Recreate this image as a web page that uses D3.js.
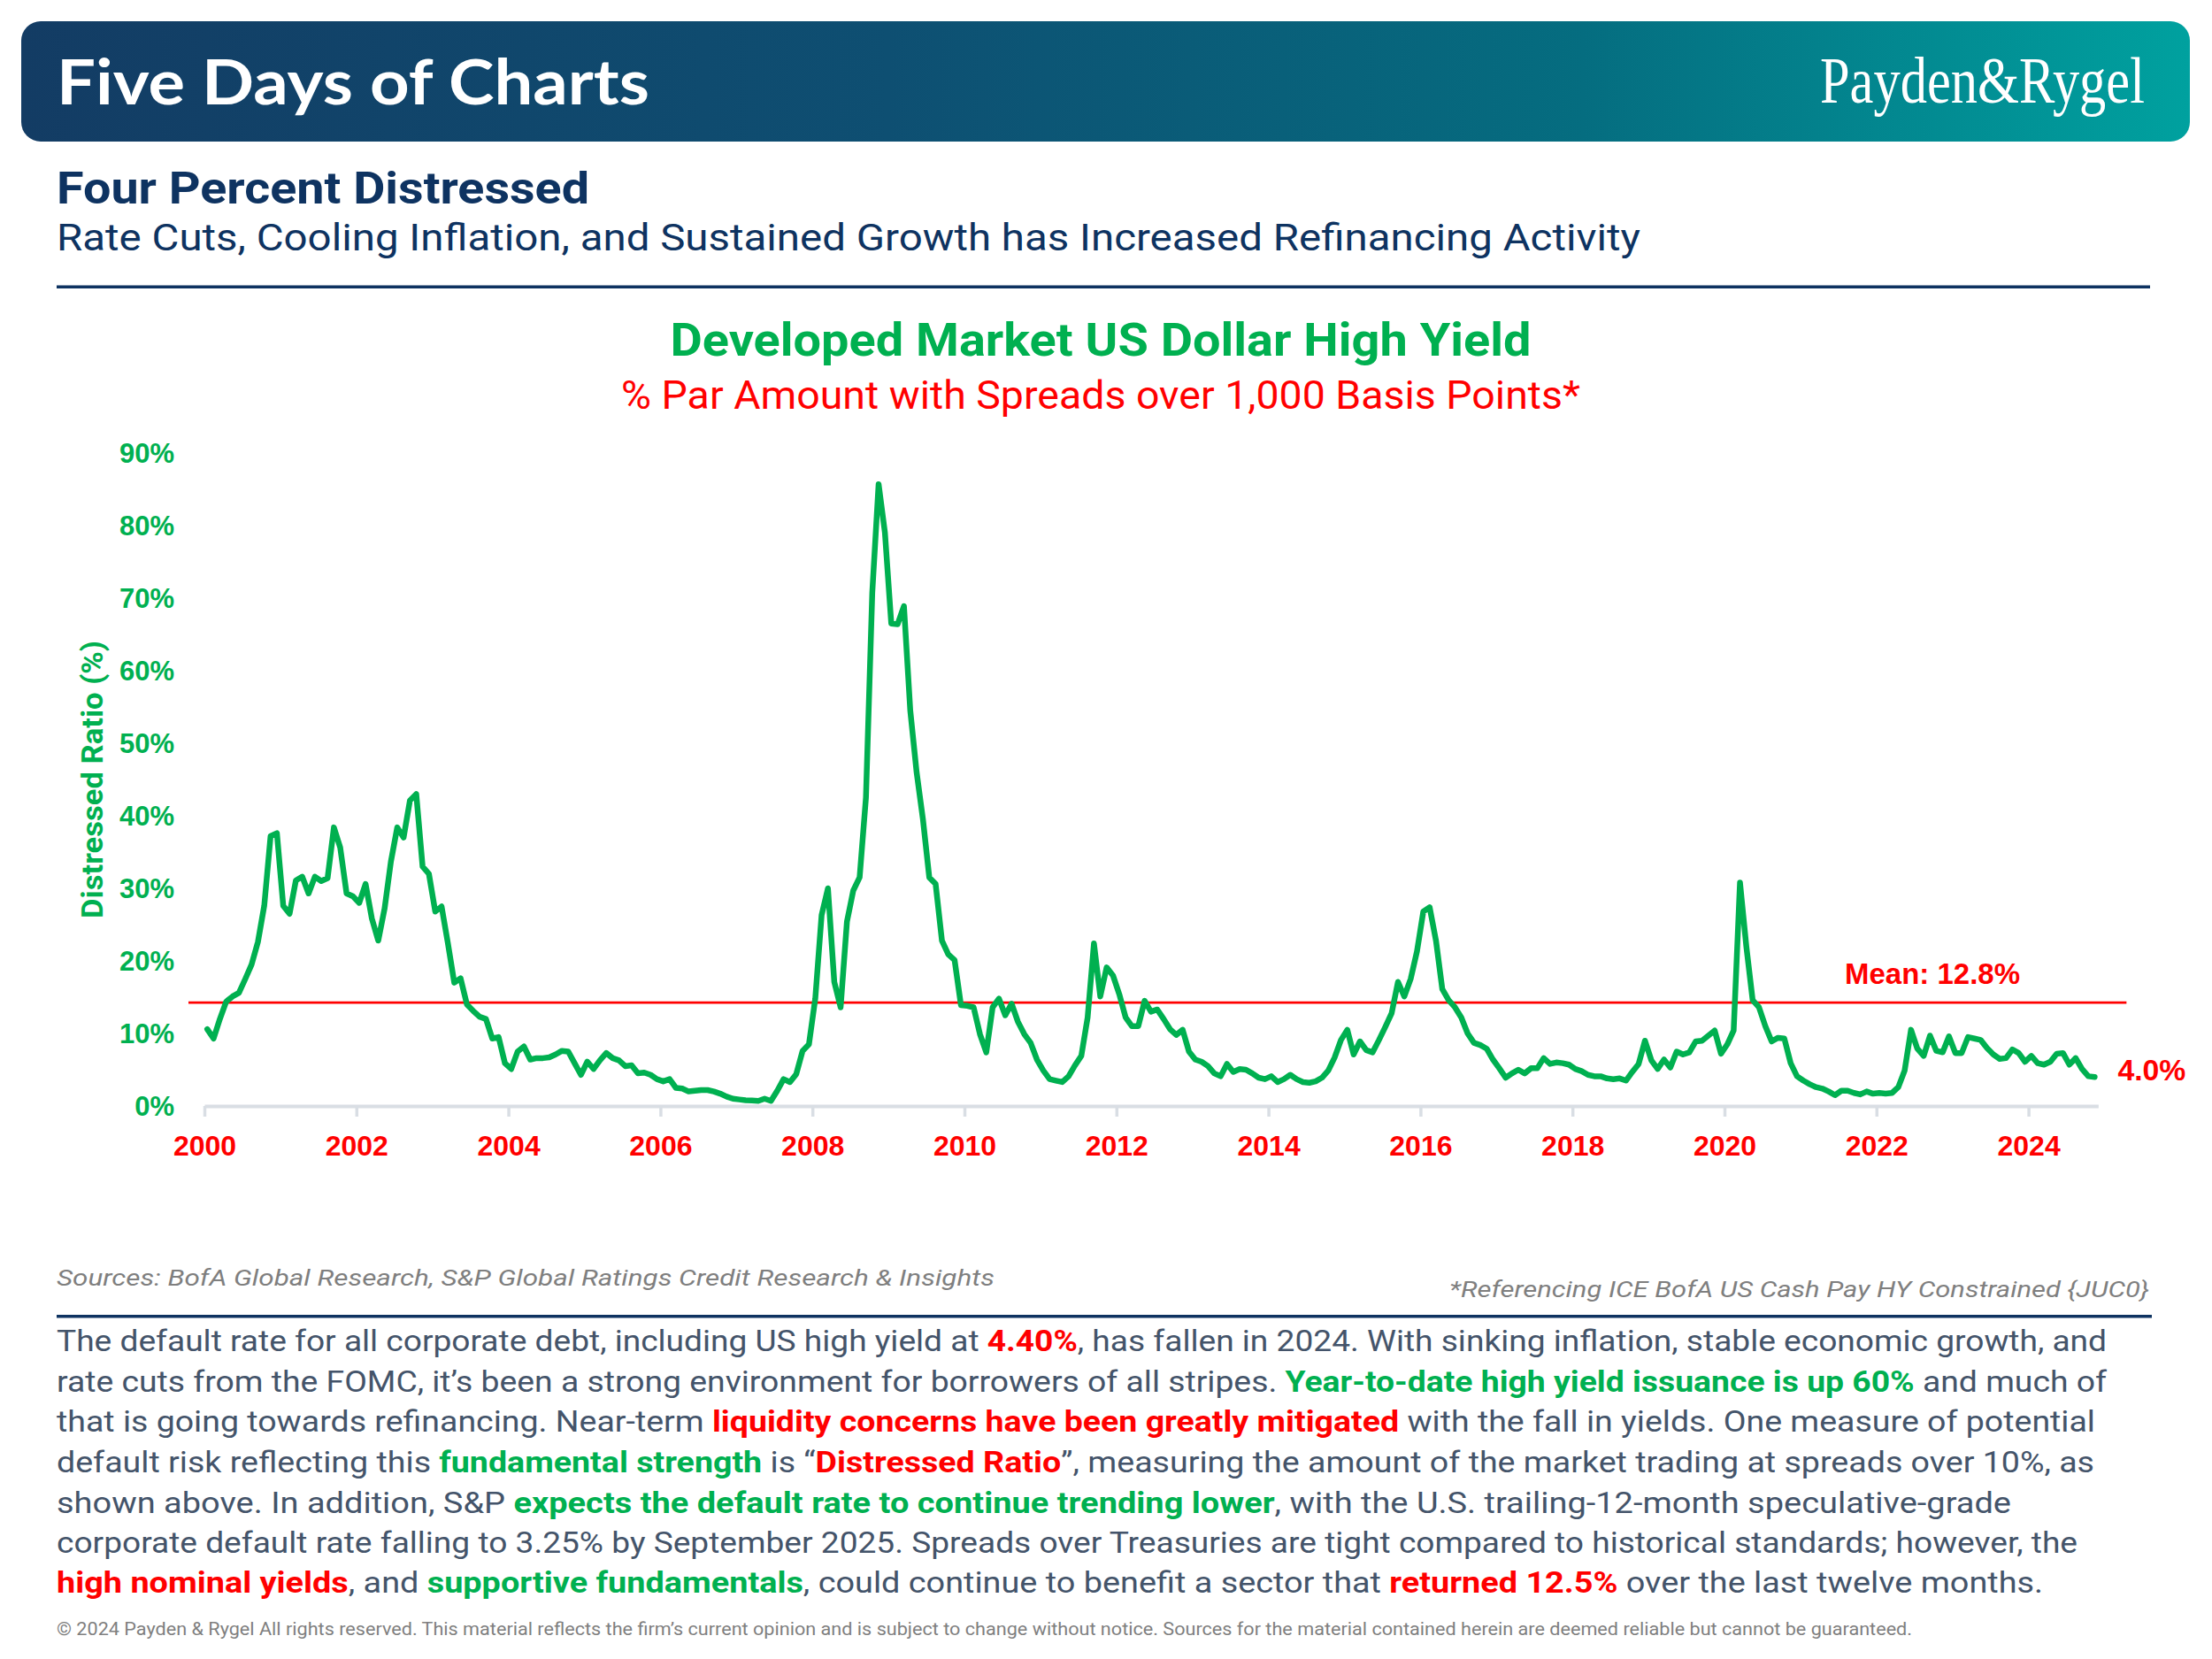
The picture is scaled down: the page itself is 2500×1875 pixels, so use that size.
<!DOCTYPE html>
<html>
<head>
<meta charset="utf-8">
<script src="https://cdn.jsdelivr.net/npm/d3@7"></script>
<style>
  html, body { margin: 0; padding: 0; background: #ffffff; }
  svg { display: block; }
</style>
</head>
<body>
<svg id="chart" width="2500" height="1875"></svg>
<script>
// ---------------- DATA ----------------
const seriesStartYear = 2000;   // monthly series, first point Jan 2000
const distressedRatio = [
  10.6, 9.3, 12.0, 14.4, 15.1, 15.6, 17.5, 19.5, 22.6, 27.6, 37.2, 37.6,   // 2000
  27.6, 26.5, 31.1, 31.6, 29.3, 31.6, 31.0, 31.4, 38.4, 35.6, 29.3, 28.9,  // 2001
  28.0, 30.6, 25.8, 22.8, 27.2, 33.7, 38.4, 37.0, 42.1, 43.0, 33.0, 32.0,  // 2002
  26.8, 27.5, 22.4, 17.0, 17.6, 14.0, 13.1, 12.3, 12.0, 9.3, 9.5, 5.9,     // 2003
  5.1, 7.5, 8.2, 6.4, 6.6, 6.6, 6.7, 7.1, 7.6, 7.5, 5.9, 4.3,              // 2004
  6.1, 5.1, 6.3, 7.3, 6.6, 6.3, 5.5, 5.6, 4.5, 4.6, 4.3, 3.7,              // 2005
  3.4, 3.7, 2.5, 2.4, 2.0, 2.1, 2.2, 2.2, 2.0, 1.7, 1.3, 1.0,              // 2006
  0.9, 0.8, 0.75, 0.7, 1.0, 0.7, 2.1, 3.7, 3.3, 4.4, 7.6, 8.5,             // 2007
  14.8, 26.3, 30.0, 17.1, 13.6, 25.4, 29.7, 31.5, 42.5, 70.8, 85.7, 79.0,  // 2008
  66.5, 66.4, 68.9, 54.5, 46.0, 39.5, 31.5, 30.6, 22.8, 20.9, 20.1, 13.9,  // 2009
  13.8, 13.6, 9.9, 7.4, 13.6, 14.8, 12.5, 14.1, 11.6, 9.9, 8.7, 6.4,       // 2010
  4.9, 3.7, 3.5, 3.3, 4.1, 5.6, 6.9, 12.2, 22.4, 15.1, 19.1, 18.0,         // 2011
  15.4, 12.2, 11.0, 11.0, 14.5, 13.0, 13.3, 12.0, 10.6, 9.8, 10.5, 7.5,    // 2012
  6.4, 6.1, 5.5, 4.5, 4.1, 5.8, 4.7, 5.1, 5.0, 4.5, 3.9, 3.7,              // 2013
  4.1, 3.3, 3.7, 4.3, 3.7, 3.3, 3.2, 3.4, 3.9, 4.9, 6.7, 9.1,              // 2014
  10.5, 7.1, 8.9, 7.7, 7.4, 9.1, 10.9, 12.8, 17.1, 15.1, 17.5, 21.3,       // 2015
  26.8, 27.4, 22.8, 16.1, 14.6, 13.6, 12.2, 10.0, 8.7, 8.4, 7.9, 6.4,      // 2016
  5.2, 3.9, 4.5, 5.0, 4.5, 5.2, 5.2, 6.6, 5.8, 6.0, 5.9, 5.7,              // 2017
  5.1, 4.8, 4.3, 4.1, 4.1, 3.8, 3.7, 3.8, 3.5, 4.7, 5.8, 9.0,              // 2018
  6.3, 5.1, 6.4, 5.3, 7.5, 7.1, 7.4, 8.9, 9.0, 9.7, 10.4, 7.2,             // 2019
  8.5, 10.4, 30.8, 22.0, 14.6, 13.6, 11.0, 8.9, 9.4, 9.3, 5.9, 4.1,        // 2020
  3.5, 3.0, 2.6, 2.4, 2.0, 1.5, 2.1, 2.1, 1.8, 1.6, 2.0, 1.7,              // 2021
  1.8, 1.7, 1.8, 2.6, 4.9, 10.5, 7.9, 6.9, 9.7, 7.6, 7.4, 9.6,             // 2022
  7.3, 7.3, 9.5, 9.3, 9.1, 8.0, 7.1, 6.5, 6.6, 7.8, 7.3, 6.1,              // 2023
  6.9, 5.9, 5.7, 6.1, 7.2, 7.3, 5.7, 6.6, 5.1, 4.1, 4.0                    // 2024 (Jan-Nov)
];
const yTickValues = [0, 10, 20, 30, 40, 50, 60, 70, 80, 90];
const xTickYears = [2000, 2002, 2004, 2006, 2008, 2010, 2012, 2014, 2016, 2018, 2020, 2022, 2024];
const meanLineLevel = 14.25;           // where the reference draws its mean line
const meanLabelText = "Mean: 12.8%";
const latestLabelText = "4.0%";

// ---------------- COLOURS / FONTS ----------------
const GREEN = "#00b050", RED = "#ff0000", NAVY = "#0e3361", BODY = "#44546a", GREY = "#7f7f7f";
const SANS = "Roboto, 'Liberation Sans', Arial, sans-serif";
const CHARTFONT = "'Liberation Sans', Arial, sans-serif";

const svg = d3.select("#chart");

// ---------------- HEADER ----------------
const defs = svg.append("defs");
const grad = defs.append("linearGradient").attr("id", "hdr").attr("x1", "0%").attr("x2", "100%").attr("y1", "0%").attr("y2", "0%");
[["0%", "#133c64"], ["40%", "#0e4f72"], ["72%", "#056d80"], ["100%", "#00a19f"]].forEach(s =>
  grad.append("stop").attr("offset", s[0]).attr("stop-color", s[1]));
svg.append("rect").attr("x", 24).attr("y", 24).attr("width", 2451).attr("height", 136).attr("rx", 22).attr("fill", "url(#hdr)");
svg.append("text").attr("x", 64).attr("y", 118).attr("fill", "#fff")
  .attr("font-family", "Lato, " + SANS).attr("font-weight", 700).attr("font-size", 70)
  .attr("textLength", 670).attr("lengthAdjust", "spacingAndGlyphs").text("Five Days of Charts");

// logo: condensed serif wordmark, scaled to the reference footprint
const logo = svg.append("text").attr("x", 0).attr("y", 0).attr("fill", "#fff")
  .attr("font-family", "'Liberation Serif', 'DejaVu Serif', serif").attr("font-size", 60)
  .text("Payden&Rygel");
const logoW = logo.node().getComputedTextLength();
logo.attr("transform", `translate(2057,116) scale(${367 / logoW},1.22)`);

// ---------------- TITLES ----------------
svg.append("text").attr("x", 64).attr("y", 230).attr("fill", NAVY)
  .attr("font-family", SANS).attr("font-weight", 700).attr("font-size", 50)
  .attr("textLength", 602).attr("lengthAdjust", "spacingAndGlyphs").text("Four Percent Distressed");
svg.append("text").attr("x", 64).attr("y", 283).attr("fill", NAVY)
  .attr("font-family", SANS).attr("font-size", 43)
  .attr("textLength", 1790).attr("lengthAdjust", "spacingAndGlyphs")
  .text("Rate Cuts, Cooling Inflation, and Sustained Growth has Increased Refinancing Activity");
svg.append("rect").attr("x", 64).attr("y", 322.5).attr("width", 2366).attr("height", 3.5).attr("fill", NAVY);

svg.append("text").attr("x", 1244).attr("y", 402).attr("text-anchor", "middle").attr("fill", GREEN)
  .attr("font-family", SANS).attr("font-weight", 700).attr("font-size", 52)
  .attr("textLength", 973).attr("lengthAdjust", "spacingAndGlyphs").text("Developed Market US Dollar High Yield");
svg.append("text").attr("x", 1244).attr("y", 462).attr("text-anchor", "middle").attr("fill", RED)
  .attr("font-family", SANS).attr("font-size", 44)
  .attr("textLength", 1084).attr("lengthAdjust", "spacingAndGlyphs").text("% Par Amount with Spreads over 1,000 Basis Points*");

// ---------------- CHART ----------------
const nMonths = distressedRatio.length;
const x = d3.scaleLinear()
  .domain([seriesStartYear, seriesStartYear + (nMonths) / 12])
  .range([231, 231 + 85.9 * (nMonths / 12)]);
const y = d3.scaleLinear().domain([0, 90]).range([1250, 512]);

const series = distressedRatio.map((v, i) => ({ t: seriesStartYear + (i + 0.45) / 12, v }));

// x axis
const xAxis = svg.append("g").attr("transform", `translate(0,${y(0)})`)
  .call(d3.axisBottom(x).tickValues(xTickYears).tickFormat(d3.format("d")).tickSizeInner(12).tickSizeOuter(0));
xAxis.select(".domain").attr("stroke", "#d9dee4").attr("stroke-width", 4);
xAxis.selectAll(".tick line").attr("stroke", "#d9dee4").attr("stroke-width", 3.5);
xAxis.selectAll(".tick text").attr("y", 56).attr("dy", 0).attr("fill", RED)
  .attr("font-family", CHARTFONT).attr("font-weight", 700).attr("font-size", 32);

// y axis (labels only)
const yAxis = svg.append("g").attr("transform", "translate(197,0)")
  .call(d3.axisLeft(y).tickValues(yTickValues).tickFormat(d => d + "%").tickSize(0).tickPadding(0));
yAxis.select(".domain").remove();
yAxis.selectAll(".tick text").attr("dy", "0.34em").attr("fill", GREEN)
  .attr("font-family", CHARTFONT).attr("font-weight", 700).attr("font-size", 31);

svg.append("text")
  .attr("transform", `translate(116,${(y(0) + y(90)) / 2}) rotate(-90)`)
  .attr("text-anchor", "middle").attr("fill", GREEN)
  .attr("font-family", SANS).attr("font-weight", 700).attr("font-size", 34)
  .attr("textLength", 314).attr("lengthAdjust", "spacingAndGlyphs")
  .text("Distressed Ratio (%)");

// mean line
const yMean = y(meanLineLevel);
svg.append("line").attr("x1", x.range()[0] - 18).attr("x2", x.range()[1] + 32)
  .attr("y1", yMean).attr("y2", yMean).attr("stroke", RED).attr("stroke-width", 2.75);
svg.append("text").attr("x", 2085).attr("y", yMean - 21.5).attr("fill", RED)
  .attr("font-family", CHARTFONT).attr("font-weight", 700).attr("font-size", 34)
  .attr("textLength", 198).attr("lengthAdjust", "spacingAndGlyphs").text(meanLabelText);

// series line
const line = d3.line().x(d => x(d.t)).y(d => y(d.v));
svg.append("path").datum(series).attr("d", line).attr("fill", "none")
  .attr("stroke", GREEN).attr("stroke-width", 6.5).attr("stroke-linejoin", "round").attr("stroke-linecap", "round");

const last = series[series.length - 1];
svg.append("text").attr("x", x(last.t) + 26).attr("y", y(last.v) + 4).attr("fill", RED)
  .attr("font-family", CHARTFONT).attr("font-weight", 700).attr("font-size", 34)
  .attr("textLength", 77).attr("lengthAdjust", "spacingAndGlyphs").text(latestLabelText);

// ---------------- FOOTNOTES ----------------
svg.append("text").attr("x", 64).attr("y", 1453).attr("fill", GREY)
  .attr("font-family", SANS).attr("font-style", "italic").attr("font-size", 26)
  .attr("textLength", 1060).attr("lengthAdjust", "spacingAndGlyphs")
  .text("Sources: BofA Global Research, S&P Global Ratings Credit Research & Insights");
svg.append("text").attr("x", 2429).attr("y", 1466).attr("text-anchor", "end").attr("fill", GREY)
  .attr("font-family", SANS).attr("font-style", "italic").attr("font-size", 26)
  .attr("textLength", 791).attr("lengthAdjust", "spacingAndGlyphs")
  .text("*Referencing ICE BofA US Cash Pay HY Constrained {JUC0}");
svg.append("rect").attr("x", 64).attr("y", 1486).attr("width", 2368).attr("height", 3.5).attr("fill", NAVY);

// ---------------- BODY TEXT ----------------
const bodyLines = [
  { y: 1527, w: 2317, parts: [["The default rate for all corporate debt, including US high yield at ", null], ["4.40%", RED], [", has fallen in 2024. With sinking inflation, stable economic growth, and", null]] },
  { y: 1573, w: 2317, parts: [["rate cuts from the FOMC, it\u2019s been a strong environment for borrowers of all stripes. ", null], ["Year-to-date high yield issuance is up 60%", GREEN], [" and much of", null]] },
  { y: 1618, w: 2304, parts: [["that is going towards refinancing. Near-term ", null], ["liquidity concerns have been greatly mitigated", RED], [" with the fall in yields. One measure of potential", null]] },
  { y: 1664, w: 2303, parts: [["default risk reflecting this ", null], ["fundamental strength", GREEN], [" is \u201c", null], ["Distressed Ratio", RED], ["\u201d, measuring the amount of the market trading at spreads over 10%, as", null]] },
  { y: 1710, w: 2209, parts: [["shown above. In addition, S&P ", null], ["expects the default rate to continue trending lower", GREEN], [", with the U.S. trailing-12-month speculative-grade", null]] },
  { y: 1755, w: 2284, parts: [["corporate default rate falling to 3.25% by September 2025. Spreads over Treasuries are tight compared to historical standards; however, the", null]] },
  { y: 1800, w: 2245, parts: [["high nominal yields", RED], [", and ", null], ["supportive fundamentals", GREEN], [", could continue to benefit a sector that ", null], ["returned 12.5%", RED], [" over the last twelve months.", null]] }
];
bodyLines.forEach(l => {
  const t = svg.append("text").attr("x", 64).attr("y", l.y)
    .attr("font-family", SANS).attr("font-size", 33).attr("fill", BODY)
    .attr("textLength", l.w).attr("lengthAdjust", "spacingAndGlyphs")
    .attr("xml:space", "preserve");
  l.parts.forEach(p => {
    const s = t.append("tspan").text(p[0]);
    if (p[1]) s.attr("fill", p[1]).attr("font-weight", 700);
  });
});

svg.append("text").attr("x", 64).attr("y", 1848).attr("fill", GREY)
  .attr("font-family", SANS).attr("font-size", 20)
  .attr("textLength", 2097).attr("lengthAdjust", "spacingAndGlyphs")
  .text("\u00a9 2024 Payden & Rygel All rights reserved. This material reflects the firm\u2019s current opinion and is subject to change without notice. Sources for the material contained herein are deemed reliable but cannot be guaranteed.");
</script>
</body>
</html>
